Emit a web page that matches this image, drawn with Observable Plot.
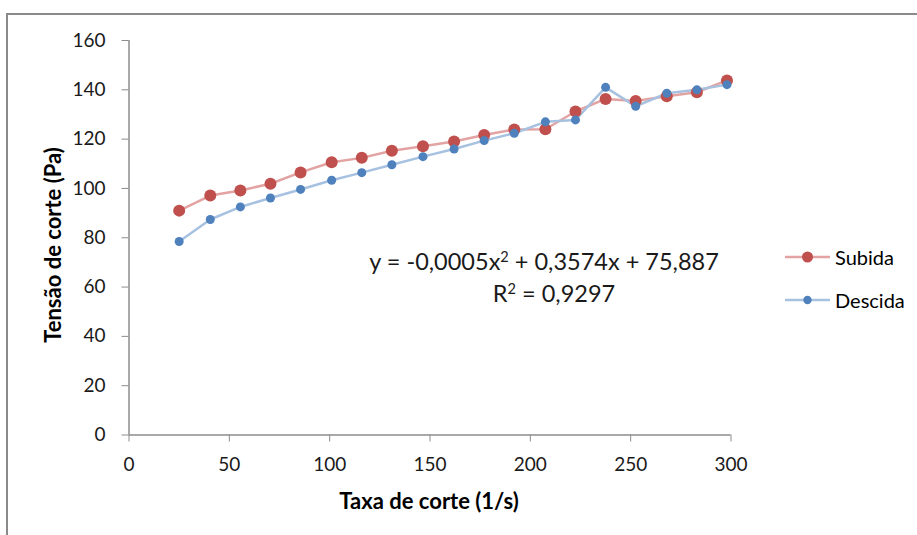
<!DOCTYPE html>
<html>
<head>
<meta charset="utf-8">
<script src="https://cdn.jsdelivr.net/npm/d3@7"></script>
<script src="https://cdn.jsdelivr.net/npm/@observablehq/plot@0.6"></script>
<style>
  html, body { margin: 0; padding: 0; background: #fff; }
  #wrap { position: relative; width: 917px; height: 535px; overflow: hidden; font-family: Lato, "Open Sans", sans-serif; color: #000; }
  #frame { position: absolute; left: 6px; top: 13px; width: 1000px; height: 1000px; border-top: 2px solid #8a8a8a; border-left: 2px solid #8a8a8a; box-sizing: border-box; }
  #chart { position: absolute; left: 0; top: 0; }
  .ttl { position: absolute; font-weight: bold; font-size: 22px; white-space: nowrap; }
  #xt { left: 429px; top: 500px; transform: translate(-50%, -50%); }
  #yt { left: 52px; top: 245px; transform: translate(-50%, -50%) rotate(-90deg); }
  .eq { position: absolute; font-size: 23.5px; white-space: nowrap; transform: translate(-50%, -50%); color: #1a1a1a; }
  .eq sup { font-size: 0.62em; vertical-align: 0.55em; line-height: 0; }
  .leg { position: absolute; left: 783px; height: 24px; display: flex; align-items: center; font-size: 20px; transform: translateY(-50%); }
  .leg svg { margin-right: 4px; }
</style>
</head>
<body>
<div id="wrap">
  <div id="frame"></div>
  <div id="chart"></div>
  <div class="ttl" id="xt">Taxa de corte (1/s)</div>
  <div class="ttl" id="yt">Tensão de corte (Pa)</div>
  <div class="eq" id="eq1" style="left:544px; top:261px;">y = -0,0005x<sup>2</sup> + 0,3574x + 75,887</div>
  <div class="eq" id="eq2" style="left:554px; top:293px;">R<sup>2</sup> = 0,9297</div>
  <div class="leg" style="top:257px;"><svg width="48" height="14"><line x1="2" y1="7" x2="47" y2="7" stroke="#E3A3A2" stroke-width="2.5"/><circle cx="24.5" cy="7" r="5.5" fill="#C0504D"/></svg><span>Subida</span></div>
  <div class="leg" style="top:300px;"><svg width="48" height="14"><line x1="2" y1="7" x2="47" y2="7" stroke="#A7C1E0" stroke-width="2.5"/><circle cx="24.5" cy="7" r="4.2" fill="#4F81BD"/></svg><span>Descida</span></div>
</div>
<script>
// Taxa de corte (1/s)
const shearRate = [25, 40.5, 55.5, 70.5, 85.5, 101, 116, 131, 146.5, 162, 177, 192, 207.5, 222.5, 237.5, 252.5, 268, 283, 298];
// Tensão de corte (Pa)
const subida  = [91.0, 97.1, 99.2, 101.9, 106.5, 110.6, 112.4, 115.3, 117.1, 119.0, 121.7, 123.9, 124.0, 131.2, 136.3, 135.5, 137.4, 139.0, 143.8];
const descida = [78.5, 87.4, 92.5, 96.1, 99.6, 103.3, 106.4, 109.6, 112.9, 116.0, 119.4, 122.4, 127.0, 127.8, 141.0, 133.3, 138.6, 140.0, 142.1];
const xTicks = [0, 50, 100, 150, 200, 250, 300];
const yTicks = [0, 20, 40, 60, 80, 100, 120, 140, 160];

const up = shearRate.map((x, i) => ({x, y: subida[i]}));
const down = shearRate.map((x, i) => ({x, y: descida[i]}));

const chart = Plot.plot({
  width: 917,
  height: 535,
  marginLeft: 128.5,
  marginRight: 186.5,
  marginTop: 40,
  marginBottom: 100.5,
  style: {fontFamily: "Lato, 'Open Sans', sans-serif", fontSize: "19px", color: "#000", background: "transparent", overflow: "visible"},
  x: {domain: [0, 300]},
  y: {domain: [0, 160]},
  marks: [
    Plot.axisX({ticks: xTicks, tickSize: 7, tickPadding: 15, tickFormat: d => String(d), label: null, stroke: "#8c8c8c", color: "#1a1a1a"}),
    Plot.axisY({ticks: yTicks, tickSize: 7, tickPadding: 16.5, tickFormat: d => String(d), label: null, stroke: "#8c8c8c", color: "#1a1a1a"}),
    Plot.ruleY([0], {stroke: "#8c8c8c", strokeWidth: 1.5}),
    Plot.ruleX([0], {stroke: "#8c8c8c", strokeWidth: 1.5}),
    Plot.line(up, {x: "x", y: "y", stroke: "#E3A3A2", strokeWidth: 2.5}),
    Plot.line(down, {x: "x", y: "y", stroke: "#A7C1E0", strokeWidth: 2.5}),
    Plot.dot(up, {x: "x", y: "y", r: 6, fill: "#C0504D"}),
    Plot.dot(down, {x: "x", y: "y", r: 4.5, fill: "#4F81BD"})
  ]
});
document.getElementById("chart").appendChild(chart);
</script>
</body>
</html>
